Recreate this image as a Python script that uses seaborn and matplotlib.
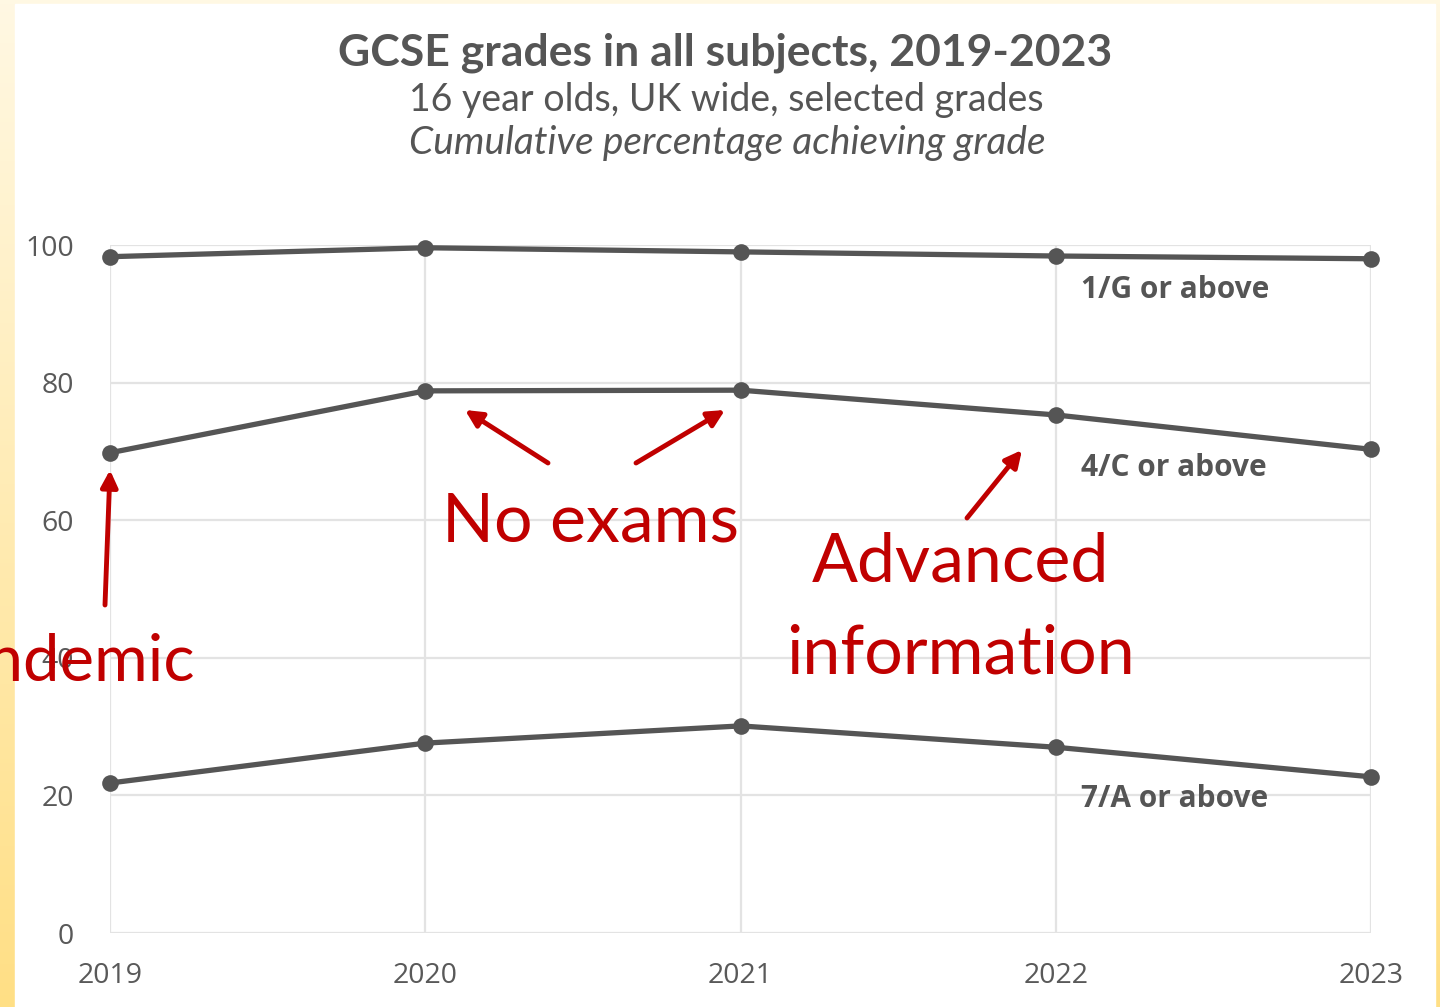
import numpy as np
import pandas as pd
import seaborn as sns
import matplotlib.pyplot as plt
from matplotlib.patches import Rectangle
from matplotlib.colors import LinearSegmentedColormap

years = [2019, 2020, 2021, 2022, 2023]
grade_1g = [98.3, 99.6, 99.0, 98.4, 98.0]
grade_4c = [69.8, 78.8, 78.9, 75.3, 70.3]
grade_7a = [21.8, 27.6, 30.1, 27.0, 22.7]
series_names = ["1/G or above", "4/C or above", "7/A or above"]
y_ticks = [0, 20, 40, 60, 80, 100]

df = pd.DataFrame({
    "year": years * 3,
    "pct": grade_1g + grade_4c + grade_7a,
    "grade": [n for n in series_names for _ in years],
})

sns.set_style("white")
plt.rcParams["font.family"] = ["Lato", "DejaVu Sans"]

W, H = 1440, 1007
fig = plt.figure(figsize=(14.4, 10.07), dpi=100)

# slide background: yellow gradient border with white panel
bg = fig.add_axes([0, 0, 1, 1], zorder=-10)
grad = np.linspace(0, 1, 256).reshape(-1, 1)
cmap = LinearSegmentedColormap.from_list("y", ["#ffdf85", "#fff8e3"])
bg.imshow(grad, cmap=cmap, aspect="auto", extent=[0, 1, 0, 1], origin="lower")
bg.add_patch(Rectangle((15 / W, 0), (1435 - 15) / W, (H - 4) / H, color="white"))
bg.set_xlim(0, 1)
bg.set_ylim(0, 1)
bg.axis("off")

ax = fig.add_axes([110 / W, 74 / H, (1371 - 110) / W, (933 - 245) / H])
ax.patch.set_alpha(0)
gray = "#555555"
sns.lineplot(data=df, x="year", y="pct", hue="grade", palette=[gray] * 3,
             marker="o", markersize=12, markeredgewidth=0, linewidth=3.8,
             legend=False, ax=ax, clip_on=False)

ax.set_xlim(2019, 2023)
ax.set_ylim(0, 100)
ax.set_xticks(years)
ax.set_yticks(y_ticks)
ax.grid(True, color="#e3e3e3", linewidth=1.6)
ax.set_axisbelow(True)
for s in ax.spines.values():
    s.set_visible(False)
ax.tick_params(length=0, labelsize=20.5, labelcolor="#595959")
ax.tick_params(axis="y", pad=26)
ax.tick_params(axis="x", pad=21)
for lab in ax.get_xticklabels() + ax.get_yticklabels():
    lab.set_family(["Open Sans", "DejaVu Sans"])
ax.set_xlabel("")
ax.set_ylabel("")

# series labels
label_y = [93.4, 67.6, 19.5]
for name, yy in zip(series_names, label_y):
    ax.text(2022.08, yy, name, fontsize=21.5, fontweight="bold", color=gray,
            va="center", ha="left", family=["Open Sans", "DejaVu Sans"])

# titles
fig.text(725 / W, 1 - 53 / H, "GCSE grades in all subjects, 2019-2023", fontsize=32,
         fontweight="bold", color="#555555", ha="center", va="center")
fig.text(726 / W, 1 - 100 / H, "16 year olds, UK wide, selected grades", fontsize=27,
         color="#555555", ha="center", va="center")
fig.text(727 / W, 1 - 143 / H, "Cumulative percentage achieving grade", fontsize=28,
         style="italic", color="#555555", ha="center", va="center")

# red annotations
red = "#c00000"
fig.text(591 / W, 1 - 522 / H, "No exams", fontsize=49, color=red,
         ha="center", va="center")
fig.text(960 / W, 1 - 563 / H, "Advanced", fontsize=49, color=red,
         ha="center", va="center")
fig.text(960 / W, 1 - 655 / H, "information", fontsize=49, color=red,
         ha="center", va="center")
fig.text(195 / W, 1 - 662 / H, "Pandemic", fontsize=47, color=red,
         ha="right", va="center")

arrows = [((105, 605), (110, 470)), ((548, 463), (465, 410)),
          ((636, 463), (725, 410)), ((967, 518), (1022, 450))]
for (x0, y0), (x1, y1) in arrows:
    fig.add_artist(plt.Annotation("", xy=(x1 / W, 1 - y1 / H), xytext=(x0 / W, 1 - y0 / H),
                                  xycoords="figure fraction", textcoords="figure fraction",
                                  arrowprops=dict(arrowstyle="-|>,head_length=1.0,head_width=0.5",
                                                  color=red, lw=3.5, shrinkA=0, shrinkB=0)))

plt.savefig("out.png", dpi=100)
